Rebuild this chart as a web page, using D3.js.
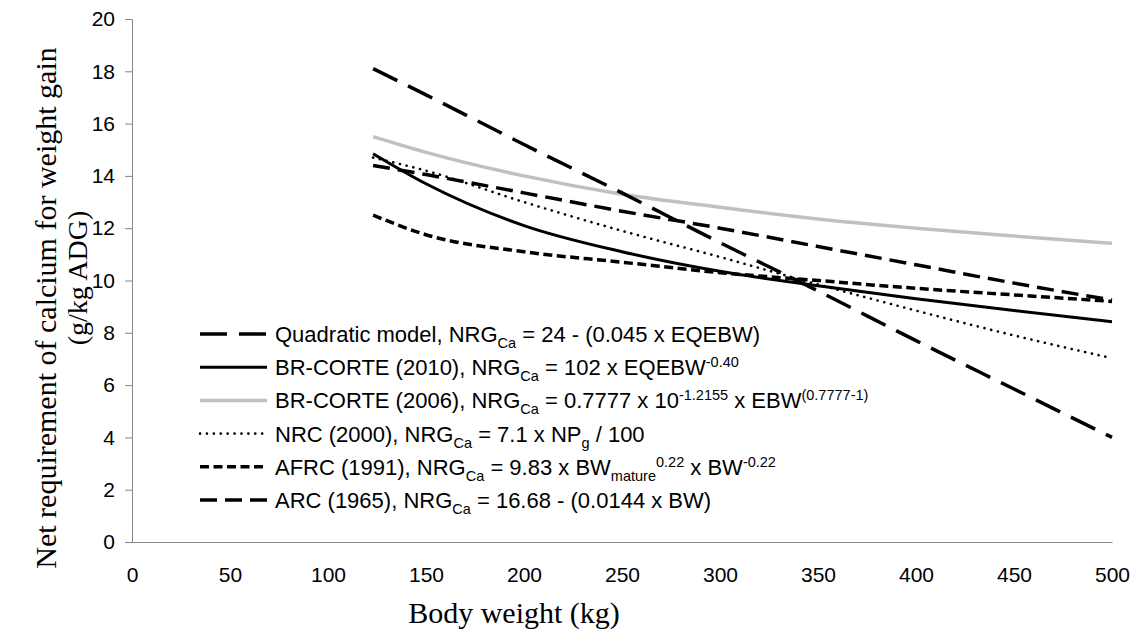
<!DOCTYPE html>
<html>
<head>
<meta charset="utf-8">
<script src="https://cdn.jsdelivr.net/npm/d3@7"></script>
<style>
  body { margin: 0; background: #fff; }
  svg { display: block; }
  .tick text { font-family: "Liberation Sans", Arial, sans-serif; font-size: 21px; fill: #000; }
  .legend text { font-family: "Liberation Sans", Arial, sans-serif; font-size: 22px; fill: #000; }
  .title { font-family: "Liberation Serif", "Times New Roman", serif; fill: #000; }
</style>
</head>
<body>
<svg width="1139" height="637"></svg>
<script>
// body weight (kg) at which values were read
const bodyWeight = [123, 150, 200, 250, 300, 350, 400, 450, 500];

const quadratic = [18.1, 17.1, 15.2, 13.35, 11.45, 9.6, 7.7, 5.85, 4.0];
const brCorte2010 = [14.85, 13.7, 12.1, 11.1, 10.35, 9.8, 9.3, 8.85, 8.42];
const brCorte2006 = [15.5, 14.9, 14.0, 13.3, 12.8, 12.35, 12.0, 11.7, 11.42];
const nrc2000 = [14.7, 14.2, 13.0, 11.9, 10.9, 9.85, 8.85, 7.9, 7.03];
const afrc1991 = [12.5, 11.75, 11.1, 10.7, 10.3, 10.0, 9.7, 9.45, 9.2];
const arc1965 = [14.4, 14.05, 13.35, 12.65, 12.0, 11.3, 10.6, 9.9, 9.25];

const xTicks = [0, 50, 100, 150, 200, 250, 300, 350, 400, 450, 500];
const yTicks = [0, 2, 4, 6, 8, 10, 12, 14, 16, 18, 20];

// legend labels as [text, kind] segments
const series = [
  { values: quadratic, color: '#000', width: 3.5, dash: '27,12',
    label: [['Quadratic model, NRG', ''], ['Ca', 'sub'], [' = 24 - (0.045 x EQEBW)', '']] },
  { values: brCorte2010, color: '#000', width: 3, dash: null,
    label: [['BR-CORTE (2010), NRG', ''], ['Ca', 'sub'], [' = 102 x EQEBW', ''], ['-0.40', 'sup']] },
  { values: brCorte2006, color: '#c0c0c0', width: 3.5, dash: null,
    label: [['BR-CORTE (2006), NRG', ''], ['Ca', 'sub'], [' = 0.7777 x 10', ''], ['-1.2155', 'sup'], [' x EBW', ''], ['(0.7777-1)', 'sup']] },
  { values: nrc2000, color: '#000', width: 2.6, dash: '0.1,6.8', cap: 'round',
    label: [['NRC (2000), NRG', ''], ['Ca', 'sub'], [' = 7.1 x NP', ''], ['g', 'sub'], [' / 100', '']] },
  { values: afrc1991, color: '#000', width: 3.5, dash: '9,4.5',
    label: [['AFRC (1991), NRG', ''], ['Ca', 'sub'], [' = 9.83 x BW', ''], ['mature', 'sub'], ['0.22', 'sup'], [' x BW', ''], ['-0.22', 'sup']] },
  { values: arc1965, color: '#000', width: 3.5, dash: '17,8',
    label: [['ARC (1965), NRG', ''], ['Ca', 'sub'], [' = 16.68 - (0.0144 x BW)', '']] }
];

const plotLeft = 132, plotRight = 1112, plotTop = 19, plotBottom = 542;

const svg = d3.select('svg');

const x = d3.scaleLinear().domain([0, 500]).range([plotLeft, plotRight]);
const y = d3.scaleLinear().domain([0, 20]).range([plotBottom, plotTop]);

// y axis
const yAxis = svg.append('g')
    .attr('transform', `translate(${plotLeft},0)`)
    .call(d3.axisLeft(y).tickValues(yTicks).tickSize(7).tickPadding(10));
yAxis.select('.domain').attr('stroke', '#868686');
yAxis.selectAll('.tick line').attr('stroke', '#868686');

// x axis
const xAxis = svg.append('g')
    .attr('transform', `translate(0,${plotBottom})`)
    .call(d3.axisBottom(x).tickValues(xTicks).tickSize(0).tickPadding(25));
xAxis.select('.domain').attr('stroke', '#868686');

svg.selectAll('g').filter(function() { return this.hasAttribute('font-family'); })
  .attr('font-family', null).attr('font-size', null);

// lines
const line = d3.line()
    .x((d, i) => x(bodyWeight[i]))
    .y(d => y(d))
    .curve(d3.curveMonotoneX);

svg.append('g').selectAll('path')
  .data(series.slice().reverse())
  .enter()
  .append('path')
    .attr('fill', 'none')
    .attr('stroke', s => s.color)
    .attr('stroke-width', s => s.width)
    .attr('stroke-dasharray', s => s.dash)
    .attr('stroke-linecap', s => s.cap || 'butt')
    .attr('d', s => line(s.values));

// legend
const legend = svg.append('g').attr('class', 'legend');
const legX = 200, legY0 = 334, legStep = 33.2;

series.forEach((s, i) => {
  const yy = legY0 + i * legStep;
  legend.append('line')
    .attr('x1', legX).attr('x2', legX + 67)
    .attr('y1', yy).attr('y2', yy)
    .attr('stroke', s.color)
    .attr('stroke-width', s.width)
    .attr('stroke-dasharray', s.dash)
    .attr('stroke-linecap', s.cap || 'butt');

  const t = legend.append('text')
    .attr('x', legX + 75).attr('y', yy + 8);
  let shift = 0;
  s.label.forEach(([txt, kind]) => {
    const target = kind === 'sub' ? 6 : kind === 'sup' ? -8 : 0;
    const ts = t.append('tspan').text(txt).attr('dy', target - shift);
    if (kind) ts.attr('font-size', 14.5);
    shift = target;
  });
});

// axis titles
svg.append('text')
  .attr('class', 'title')
  .attr('font-size', 30)
  .attr('text-anchor', 'middle')
  .attr('transform', 'translate(56,308) rotate(-90)')
  .text('Net requirement of calcium for weight gain');
svg.append('text')
  .attr('class', 'title')
  .attr('font-size', 28)
  .attr('text-anchor', 'middle')
  .attr('transform', 'translate(87,278) rotate(-90)')
  .text('(g/kg ADG)');
svg.append('text')
  .attr('class', 'title')
  .attr('font-size', 30)
  .attr('text-anchor', 'middle')
  .attr('x', 514).attr('y', 623)
  .text('Body weight (kg)');
</script>
</body>
</html>
